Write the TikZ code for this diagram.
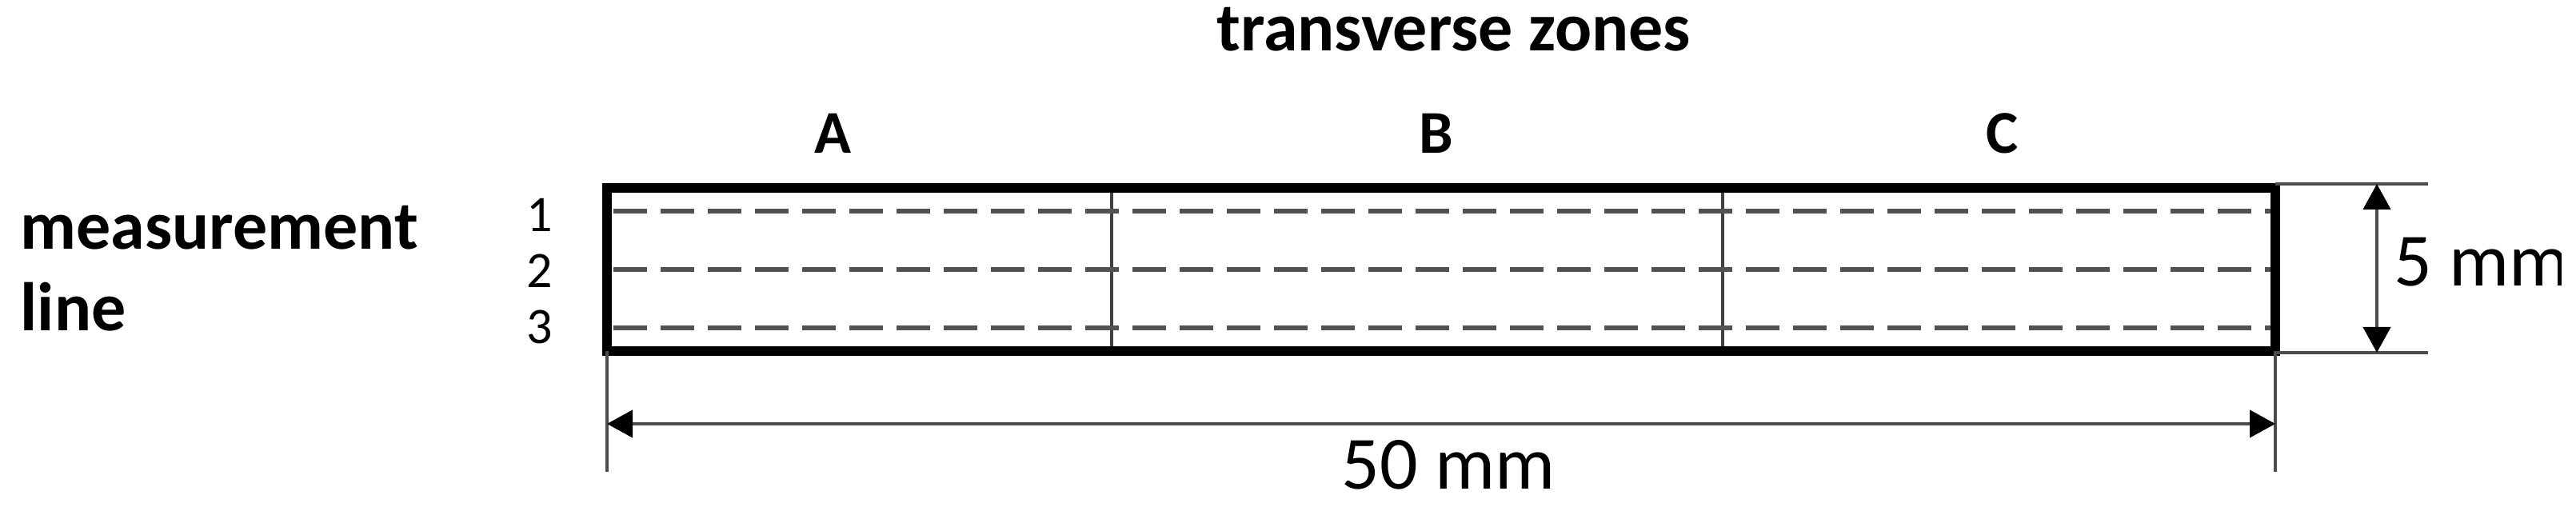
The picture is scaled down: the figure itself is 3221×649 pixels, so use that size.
\documentclass[tikz,border=0pt]{standalone}
\usepackage{fontspec}
\setmainfont{Carlito}
\usetikzlibrary{arrows.meta}
\begin{document}
\begin{tikzpicture}[x=0.25pt,y=-0.25pt,
  border/.style={line width=3pt,black},
  divider/.style={line width=1.1pt,black!75},
  measline/.style={line width=1.7pt,black!68,dash pattern=on 10.5pt off 4.25pt},
  extline/.style={line width=1.1pt,black!70},
  dimarrow/.style={line width=1.1pt,black!70,{Triangle[length=8pt,width=8.5pt,black]}-{Triangle[length=8pt,width=8.5pt,black]}},
  lbl/.style={inner sep=0pt,anchor=base},
  boldlbl/.style={lbl,font=\bfseries\fontsize{21.5pt}{24pt}\selectfont},
  zonelbl/.style={lbl,font=\bfseries\fontsize{19pt}{22pt}\selectfont},
  numlbl/.style={lbl,font=\fontsize{16pt}{18pt}\selectfont},
  dimlbl/.style={lbl,font=\fontsize{23.5pt}{26pt}\selectfont}]
\useasboundingbox (0,0) rectangle (3221,649);
% corners
\coordinate (tl) at (759,235);
\coordinate (tr) at (2845,235);
\coordinate (bl) at (759,439);
\coordinate (br) at (2845,439);
% dividers
\coordinate (d1t) at (1390,235); \coordinate (d1b) at (1390,439);
\coordinate (d2t) at (2154,235); \coordinate (d2b) at (2154,439);
\draw[divider] (d1t) -- (d1b);
\draw[divider] (d2t) -- (d2b);
% measurement lines
\coordinate (m1l) at (767,264); \coordinate (m1r) at (2845,264);
\coordinate (m2l) at (767,337); \coordinate (m2r) at (2845,337);
\coordinate (m3l) at (767,410); \coordinate (m3r) at (2845,410);
\draw[measline] (m1l) -- (m1r);
\draw[measline] (m2l) -- (m2r);
\draw[measline] (m3l) -- (m3r);
% border
\draw[border] (tl) rectangle (br);
% extension lines
\coordinate (lx) at (759,590);
\coordinate (rx) at (2845,590);
\draw[extline] (bl) -- (lx);
\draw[extline] (br) -- (rx);
\coordinate (et1) at (2845,230); \coordinate (et2) at (3036,230);
\coordinate (eb1) at (2845,441); \coordinate (eb2) at (3036,441);
\draw[extline] (et1) -- (et2);
\draw[extline] (eb1) -- (eb2);
% dimension arrows
\coordinate (hl) at (759,530); \coordinate (hr) at (2845,530);
\draw[dimarrow] (hl) -- (hr);
\coordinate (vt) at (2972,230); \coordinate (vb) at (2972,441);
\draw[dimarrow] (vt) -- (vb);
% texts
\node[boldlbl] (title) at (1818,64) {transverse zones};
\node[zonelbl] (A) at (1042,192) {A};
\node[zonelbl] (B) at (1796,192) {B};
\node[zonelbl] (C) at (2504,192) {C};
\node[numlbl] (n1) at (675,290) {1};
\node[numlbl] (n2) at (675,360) {2};
\node[numlbl] (n3) at (675,430) {3};
\node[boldlbl,anchor=base west] (meas) at (25,312) {measurement};
\node[boldlbl,anchor=base west] (line) at (25,414) {line};
\node[dimlbl] (fifty) at (1811,612) {50 mm};
\node[dimlbl,anchor=base west] (five) at (2993,358) {5 mm};
% the reference is cropped at the right edge
\fill[white] (3203,0) rectangle (3221,649);
\end{tikzpicture}
\end{document}
